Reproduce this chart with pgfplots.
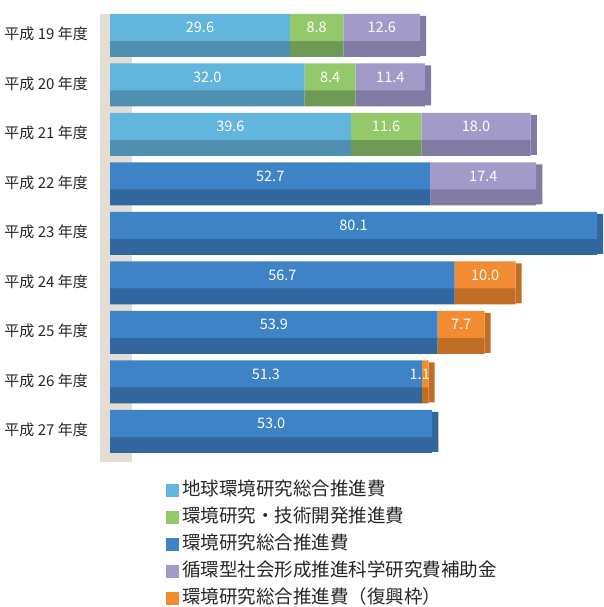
\documentclass[border=0pt]{standalone}
\usepackage{pgfplots}
\usepackage{pgfplotstable}
\pgfplotsset{compat=1.18}
\usepackage{fontspec}
\setmainfont{Noto Sans CJK JP}
\definecolor{lbT}{HTML}{62B5DC}
\definecolor{lbD}{HTML}{4F8FB0}
\definecolor{grT}{HTML}{93C96B}
\definecolor{grD}{HTML}{6F9A55}
\definecolor{blT}{HTML}{3D83C5}
\definecolor{blD}{HTML}{31669E}
\definecolor{puT}{HTML}{A29BCA}
\definecolor{puD}{HTML}{807BA2}
\definecolor{orT}{HTML}{F28B32}
\definecolor{orD}{HTML}{C06D26}
\definecolor{wallc}{HTML}{E4DDD3}
% rows: y=8 -> H19 ... y=0 -> H27
\pgfplotstableread{
y v
8 29.6
7 32.0
6 39.6
5 0
4 0
3 0
2 0
1 0
0 0
}\tLB
\pgfplotstableread{
y v
8 8.8
7 8.4
6 11.6
5 0
4 0
3 0
2 0
1 0
0 0
}\tGR
\pgfplotstableread{
y v
8 0
7 0
6 0
5 52.7
4 80.1
3 56.7
2 53.9
1 51.3
0 53.0
}\tBL
\pgfplotstableread{
y v
8 12.6
7 11.4
6 18.0
5 17.4
4 0
3 0
2 0
1 0
0 0
}\tPU
\pgfplotstableread{
y v
8 0
7 0
6 0
5 0
4 0
3 10.0
2 7.7
1 1.1
0 0
}\tOR
% end caps of the 3D bars (decoration)
\pgfplotstableread{
y pu bl or
8 1.0 0 0
7 1.0 0 0
6 1.0 0 0
5 1.0 0 0
4 0 1.0 0
3 0 0 1.0
2 0 0 1.0
1 0 0 1.0
0 0 1.0 0
}\tCAP
\begin{document}
\begin{tikzpicture}
\pgfplotsset{myax/.style={scale only axis, width=506pt, height=455.4pt,
  xmin=-1.974, xmax=81.25, ymin=-0.7, ymax=8.5,
  at={(98pt,140.85pt)}, anchor=south west, clip=false},
  myleg/.style={legend image code/.code={\fill[##1,draw=none] (0pt,-6.5pt) rectangle (13pt,6.5pt);}}}
% wall
\begin{axis}[myax, hide axis]
\addplot[fill=wallc, draw=none, mark=none] coordinates {(-1.645,-0.616) (3.57,-0.616) (3.57,8.434) (-1.645,8.434)};
\end{axis}
% lower faces
\begin{axis}[myax, hide axis, xbar stacked, bar width=16.5pt, bar shift=-13.25pt]
\addplot[fill=lbD, draw=none] table[x=v,y=y]{\tLB};
\addplot[fill=grD, draw=none] table[x=v,y=y]{\tGR};
\addplot[fill=blD, draw=none] table[x=v,y=y]{\tBL};
\addplot[fill=puD, draw=none] table[x=v,y=y]{\tPU};
\addplot[fill=orD, draw=none] table[x=v,y=y]{\tOR};
\addplot[fill=puD, draw=none, bar width=40pt, bar shift=-0.5pt] table[x=pu,y=y]{\tCAP};
\addplot[fill=blD, draw=none, bar width=40pt, bar shift=-0.5pt] table[x=bl,y=y]{\tCAP};
\addplot[fill=orD, draw=none, bar width=40pt, bar shift=-0.5pt] table[x=or,y=y]{\tCAP};
\end{axis}
% upper faces
\begin{axis}[myax, xbar stacked, bar width=27pt, bar shift=8pt,
  axis line style={draw=none}, xtick=\empty,
  ytick={0,...,8},
  yticklabels={平成 27 年度,平成 26 年度,平成 25 年度,平成 24 年度,平成 23 年度,平成 22 年度,平成 21 年度,平成 20 年度,平成 19 年度},
  ytick style={draw=none},
  yticklabel style={font=\fontsize{15}{17}\selectfont, inner sep=0pt, xshift=-10pt, yshift=1.5pt, text=black!85},
  /pgf/number format/assume math mode=true,
  visualization depends on={\thisrow{v}\as\val},
  nodes near coords={\ifdim\val pt>0pt\pgfmathprintnumber[fixed,fixed zerofill,precision=1]{\val}\fi},
  every node near coord/.style={anchor=center, text=white, font=\fontsize{14.5}{16}\selectfont, xshift={ifthenelse(\val<3,-5.5,0)*1pt}, yshift=8pt},
  legend style={at={(0.134,-0.034)}, anchor=north west, draw=none, fill=none, inner sep=0pt,
    font=\fontsize{18.5}{20}\selectfont, row sep=8.8pt,
    nodes={inner sep=0pt, text height=14pt, text depth=4pt, anchor=west, text=black!85},
    /tikz/every odd column/.append style={column sep=3pt}},
  legend cell align=left]
\addplot[fill=lbT, draw=none, myleg] table[x=v,y=y]{\tLB};
\addplot[fill=grT, draw=none, myleg] table[x=v,y=y]{\tGR};
\addplot[fill=blT, draw=none, myleg] table[x=v,y=y]{\tBL};
\addplot[fill=puT, draw=none, myleg] table[x=v,y=y]{\tPU};
\addplot[fill=orT, draw=none, myleg] table[x=v,y=y]{\tOR};
\legend{地球環境研究総合推進費,環境研究・技術開発推進費,環境研究総合推進費,循環型社会形成推進科学研究費補助金,環境研究総合推進費（復興枠）}
\end{axis}
\pgfresetboundingbox
\path (0pt,0pt) rectangle (604pt,607pt);
\end{tikzpicture}
\end{document}
